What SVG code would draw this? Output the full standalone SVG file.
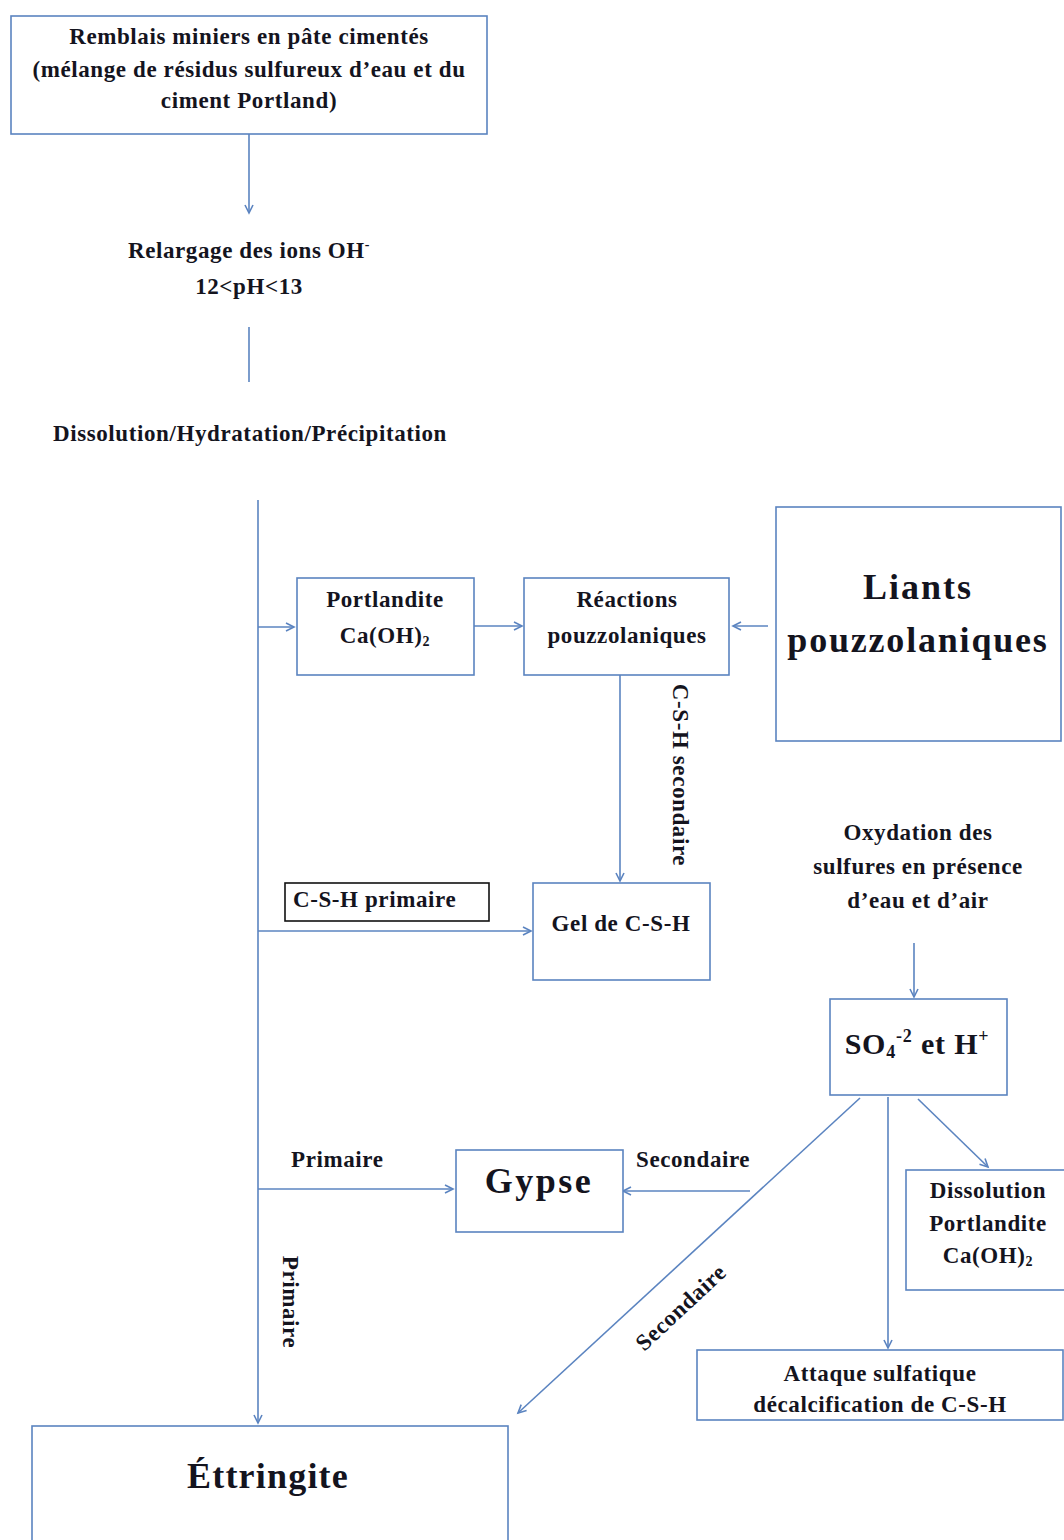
<svg xmlns="http://www.w3.org/2000/svg" width="1064" height="1540" viewBox="0 0 1064 1540">
<style>
.box{fill:#fff;stroke:#5b84c0;stroke-width:1.6}
.bbox{fill:#fff;stroke:#111;stroke-width:1.6}
.t{font-family:"Liberation Serif","Times New Roman",serif;font-weight:bold;fill:#14141e;font-size:23px;letter-spacing:0.6px}
.c{text-anchor:middle}
.big{font-size:36px}
.con{fill:none;stroke:#5b84c0;stroke-width:1.6}
</style>
<defs>
<marker id="ah" markerWidth="12" markerHeight="12" refX="9" refY="5" orient="auto" markerUnits="userSpaceOnUse">
<path d="M1,1 L9,5 L1,9" fill="none" stroke="#5b84c0" stroke-width="1.6"/>
</marker>
</defs>
<rect width="1064" height="1540" fill="#fff"/>

<g id="connectors">
<line class="con" x1="249" y1="134" x2="249" y2="213" marker-end="url(#ah)"/>
<line class="con" x1="249" y1="327" x2="249" y2="382"/>
<line class="con" x1="258" y1="500" x2="258" y2="1423" marker-end="url(#ah)"/>
<line class="con" x1="258" y1="627" x2="294" y2="627" marker-end="url(#ah)"/>
<line class="con" x1="474" y1="626" x2="522" y2="626" marker-end="url(#ah)"/>
<line class="con" x1="768" y1="626" x2="733" y2="626" marker-end="url(#ah)"/>
<line class="con" x1="620" y1="675" x2="620" y2="881" marker-end="url(#ah)"/>
<line class="con" x1="258" y1="931" x2="531" y2="931" marker-end="url(#ah)"/>
<line class="con" x1="914" y1="943" x2="914" y2="997" marker-end="url(#ah)"/>
<line class="con" x1="258" y1="1189" x2="453" y2="1189" marker-end="url(#ah)"/>
<line class="con" x1="750" y1="1191" x2="623" y2="1191" marker-end="url(#ah)"/>
<line class="con" x1="860" y1="1098" x2="518" y2="1413" marker-end="url(#ah)"/>
<line class="con" x1="888" y1="1097" x2="888" y2="1348" marker-end="url(#ah)"/>
<line class="con" x1="918" y1="1099" x2="988" y2="1167" marker-end="url(#ah)"/>
</g>

<g id="label-csh-secondaire"><text class="t c" transform="translate(673,775) rotate(90)">C-S-H secondaire</text></g>
<g id="label-primaire-h"><text class="t" x="291" y="1167">Primaire</text></g>
<g id="label-secondaire-h"><text class="t" x="636" y="1167">Secondaire</text></g>
<g id="label-primaire-v"><text class="t c" transform="translate(283,1302) rotate(90)">Primaire</text></g>
<g id="label-secondaire-d"><text class="t c" transform="translate(686,1313) rotate(-43)">Secondaire</text></g>

<g id="n-remblais">
<rect class="box" x="11" y="16" width="476" height="118"/>
<text class="t c" x="249" y="44">Remblais miniers en pâte cimentés</text>
<text class="t c" x="249" y="77">(mélange de résidus sulfureux d’eau et du</text>
<text class="t c" x="249" y="108">ciment Portland)</text>
</g>

<g id="n-relargage">
<text class="t c" x="249" y="258">Relargage des ions OH<tspan font-size="14" dy="-9">-</tspan></text>
<text class="t c" x="249" y="294">12&lt;pH&lt;13</text>
</g>

<g id="n-dissolution">
<text class="t c" x="250" y="441">Dissolution/Hydratation/Précipitation</text>
</g>

<g id="n-portlandite">
<rect class="box" x="297" y="578" width="177" height="97"/>
<text class="t c" x="385" y="607">Portlandite</text>
<text class="t c" x="385" y="643">Ca(OH)<tspan font-size="14" dy="3">2</tspan></text>
</g>

<g id="n-reactions">
<rect class="box" x="524" y="578" width="205" height="97"/>
<text class="t c" x="627" y="607">Réactions</text>
<text class="t c" x="627" y="643">pouzzolaniques</text>
</g>

<g id="n-liants">
<rect class="box" x="776" y="507" width="285" height="234"/>
<text class="t c big" x="918" y="599" style="letter-spacing:2px">Liants</text>
<text class="t c big" x="918" y="652" style="letter-spacing:1.8px">pouzzolaniques</text>
</g>

<g id="n-csh-primaire">
<rect class="bbox" x="285" y="883" width="204" height="38"/>
<text class="t" x="293" y="907">C-S-H primaire</text>
</g>

<g id="n-gel">
<rect class="box" x="533" y="883" width="177" height="97"/>
<text class="t c" x="621" y="931">Gel de C-S-H</text>
</g>

<g id="n-oxydation">
<text class="t c" x="918" y="840">Oxydation des</text>
<text class="t c" x="918" y="874">sulfures en présence</text>
<text class="t c" x="918" y="908">d’eau et d’air</text>
</g>

<g id="n-so4">
<rect class="box" x="830" y="999" width="177" height="96"/>
<text class="t c" x="917" y="1054" style="font-size:30px;letter-spacing:0.8px">SO<tspan font-size="18" dy="4">4</tspan><tspan font-size="18" dy="-16">-2</tspan><tspan dy="12"> et H</tspan><tspan font-size="18" dy="-12">+</tspan></text>
</g>

<g id="n-gypse">
<rect class="box" x="456" y="1150" width="167" height="82"/>
<text class="t c big" x="539" y="1193" style="letter-spacing:2.5px">Gypse</text>
</g>

<g id="n-dissolution-portlandite">
<rect class="box" x="906" y="1170" width="160" height="120"/>
<text class="t c" x="988" y="1198">Dissolution</text>
<text class="t c" x="988" y="1231">Portlandite</text>
<text class="t c" x="988" y="1263">Ca(OH)<tspan font-size="14" dy="3">2</tspan></text>
</g>

<g id="n-attaque">
<rect class="box" x="697" y="1350" width="366" height="70"/>
<text class="t c" x="880" y="1381">Attaque sulfatique</text>
<text class="t c" x="880" y="1412">décalcification  de C-S-H</text>
</g>

<g id="n-ettringite">
<rect class="box" x="32" y="1426" width="476" height="130"/>
<text class="t c big" x="268" y="1488" style="letter-spacing:1.2px">Éttringite</text>
</g>
</svg>
